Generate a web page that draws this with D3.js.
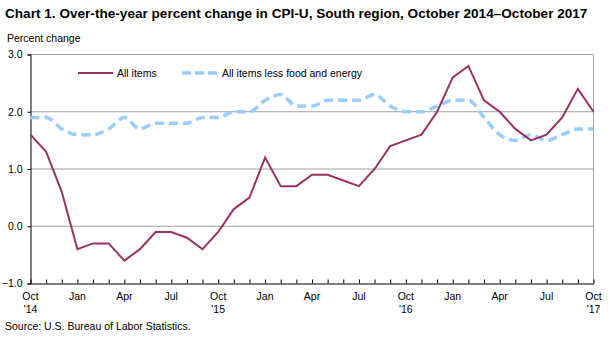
<!DOCTYPE html>
<html>
<head>
<meta charset="utf-8">
<script src="https://cdn.jsdelivr.net/npm/d3@7"></script>
<style>
  body { margin: 0; background: #fff; }
  svg { display: block; font-family: "Liberation Sans", Arial, sans-serif; }
</style>
</head>
<body>
<svg id="chart" width="610" height="337"></svg>
<script>
// monthly, Oct 2014 .. Oct 2017
var months = ["Oct","Nov","Dec","Jan","Feb","Mar","Apr","May","Jun","Jul","Aug","Sep",
              "Oct","Nov","Dec","Jan","Feb","Mar","Apr","May","Jun","Jul","Aug","Sep",
              "Oct","Nov","Dec","Jan","Feb","Mar","Apr","May","Jun","Jul","Aug","Sep","Oct"];
var allItems = [1.6,1.3,0.6,-0.4,-0.3,-0.3,-0.6,-0.4,-0.1,-0.1,-0.2,-0.4,
                -0.1,0.3,0.5,1.2,0.7,0.7,0.9,0.9,0.8,0.7,1.0,1.4,
                1.5,1.6,2.0,2.6,2.8,2.2,2.0,1.7,1.5,1.6,1.9,2.4,2.0];
var coreItems = [1.9,1.9,1.7,1.6,1.6,1.7,1.9,1.7,1.8,1.8,1.8,1.9,
                 1.9,2.0,2.0,2.2,2.3,2.1,2.1,2.2,2.2,2.2,2.3,2.1,
                 2.0,2.0,2.1,2.2,2.2,1.9,1.6,1.5,1.6,1.5,1.6,1.7,1.7];
var yearLabels = {0: "'14", 12: "'15", 24: "'16", 36: "'17"};
var yTicks = [-1.0, 0.0, 1.0, 2.0, 3.0];

var svg = d3.select("#chart");
var pl = 30.5, pr = 593.5, pt = 54.5, pb = 283.5;

var x = d3.scaleLinear().domain([0, months.length - 1]).range([pl, pr]);
var y = d3.scaleLinear().domain([-1, 3]).range([pb, pt]);

svg.append("text")
   .attr("x", 5).attr("y", 18)
   .style("font-size", "13.6px").style("font-weight", "bold")
   .text("Chart 1. Over-the-year percent change in CPI-U, South region, October 2014\u2013October 2017");

svg.append("text")
   .attr("x", 7).attr("y", 42)
   .style("font-size", "10.5px")
   .text("Percent change");

// gridlines
svg.append("g").selectAll("line")
   .data(yTicks.filter(function(d){ return d > -1; }))
   .enter().append("line")
   .attr("x1", pl).attr("x2", pr)
   .attr("y1", function(d){ return y(d); }).attr("y2", function(d){ return y(d); })
   .attr("stroke", "#a0a0a0").attr("stroke-width", 1);

svg.append("line")
   .attr("x1", pr).attr("x2", pr).attr("y1", pt).attr("y2", pb)
   .attr("stroke", "#a0a0a0");

// y axis
var yAxis = d3.axisLeft(y).tickValues(yTicks).tickSize(3)
              .tickFormat(d3.format(".1f"));
var gy = svg.append("g").attr("transform", "translate(" + pl + ",0)").call(yAxis);
gy.select(".domain").attr("stroke", "#000");
gy.selectAll("text").style("font-size", "10.5px").attr("fill", "#000").attr("dx", "-2")
  .style("font-family", "Liberation Sans, Arial, sans-serif");

// x axis, ticks pointing inward
var xAxis = d3.axisBottom(x).tickValues(d3.range(months.length))
              .tickSize(-4).tickSizeOuter(0).tickFormat("");
var gx = svg.append("g").attr("transform", "translate(0," + pb + ")").call(xAxis);
gx.select(".domain").attr("stroke", "#000");

var labelIdx = d3.range(0, months.length, 3);
svg.append("g").selectAll("text")
   .data(labelIdx).enter().append("text")
   .attr("x", function(i){ return x(i); }).attr("y", 300)
   .attr("text-anchor", "middle").style("font-size", "10.5px")
   .text(function(i){ return months[i]; });
svg.append("g").selectAll("text")
   .data(Object.keys(yearLabels)).enter().append("text")
   .attr("x", function(i){ return x(+i); }).attr("y", 313)
   .attr("text-anchor", "middle").style("font-size", "10.5px")
   .text(function(i){ return yearLabels[i]; });

// series
var coreLine = d3.line()
   .x(function(d, i){ return x(i); }).y(function(d){ return y(d); })
   .curve(d3.curveMonotoneX);
svg.append("path").datum(coreItems)
   .attr("d", coreLine).attr("fill", "none")
   .attr("stroke", "#99ccff").attr("stroke-width", 3.5)
   .attr("stroke-dasharray", "9,5");

var allLine = d3.line()
   .x(function(d, i){ return x(i); }).y(function(d){ return y(d); });
svg.append("path").datum(allItems)
   .attr("d", allLine).attr("fill", "none")
   .attr("stroke", "#993366").attr("stroke-width", 2);

// legend
var legend = svg.append("g");
legend.append("line").attr("x1", 78).attr("x2", 113).attr("y1", 73).attr("y2", 73)
   .attr("stroke", "#993366").attr("stroke-width", 2);
legend.append("text").attr("x", 117).attr("y", 77).style("font-size", "10.5px").text("All items");
legend.append("line").attr("x1", 182).attr("x2", 217).attr("y1", 73).attr("y2", 73)
   .attr("stroke", "#99ccff").attr("stroke-width", 3.5).attr("stroke-dasharray", "9,4");
legend.append("text").attr("x", 222).attr("y", 77).style("font-size", "10.5px")
   .text("All items less food and energy");

svg.append("text")
   .attr("x", 5).attr("y", 330)
   .style("font-size", "10.5px")
   .text("Source: U.S. Bureau of Labor Statistics.");
</script>
</body>
</html>
